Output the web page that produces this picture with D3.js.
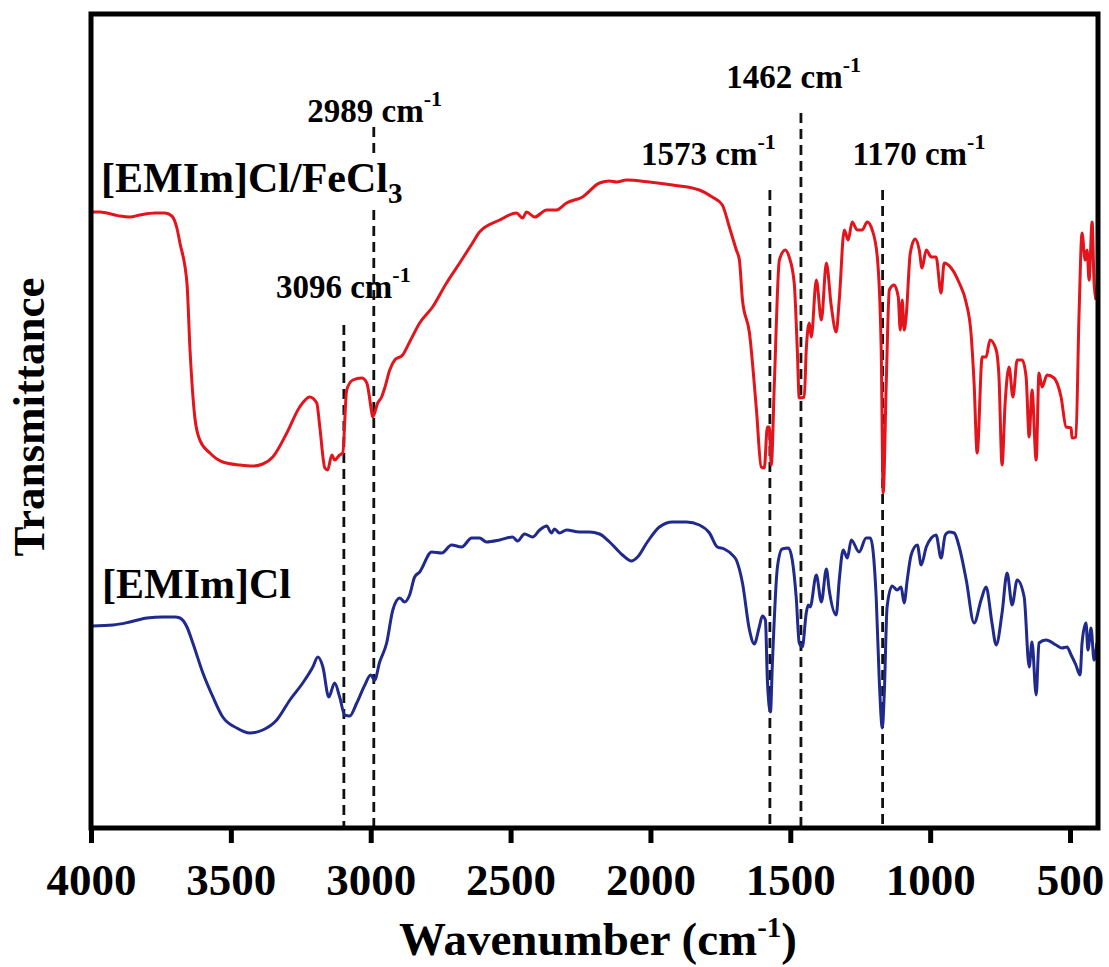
<!DOCTYPE html>
<html>
<head>
<meta charset="utf-8">
<script src="https://cdn.jsdelivr.net/npm/d3@7"></script>
<style>
  body { margin: 0; background: #fff; }
  text { font-family: "Liberation Serif", "Times New Roman", serif; font-weight: bold; }
</style>
</head>
<body>
<svg id="chart"></svg>
<script>
// wavenumber (cm-1) and transmittance (a.u.)
const feWn = [4000,3968,3914,3896,3861,3825,3771,3736,3711,3693,3682,3657,3646,3629,3611,3575,3529,3468,3421,3386,
  3350,3300,3254,3218,3193,3182,3164,3154,3139,3129,3111,3100,3086,3064,3032,3014,2996,2993,2975,2961,
  2950,2932,2914,2886,2861,2825,2779,2729,2682,2636,2611,2539,2479,2457,2443,2414,2371,2336,2300,2243,
  2182,2146,2121,2086,2004,1921,1825,1779,1743,1718,1693,1682,1671,1646,1621,1604,1593,1582,1575,1568,
  1557,1539,1518,1504,1486,1475,1468,1450,1443,1432,1425,1407,1389,1371,1354,1336,1325,1307,1293,1279,
  1261,1243,1225,1207,1189,1175,1168,1157,1146,1129,1114,1107,1100,1093,1086,1071,1054,1039,1029,1014,
  996,979,961,950,925,896,871,854,843,832,814,800,786,764,754,743,732,718,704,689,
  671,657,646,636,621,611,600,582,557,532,514,496,493,479,468,457,446,439,432,421,414,407];
const feT = [61.6,61.6,61.3,61.2,61.1,61.3,61.5,61.5,61.2,60.0,58.5,54.5,47.8,41.1,38.8,37.5,36.6,36.3,36.2,36.4,
  37.1,39.5,42.1,43.1,42.5,40.1,36.0,35.8,37.3,36.8,37.3,37.5,43.8,44.8,45.0,44.5,41.5,41.1,42.5,43.1,
  44.0,45.8,46.8,47.3,48.6,50.5,52.1,54.5,56.5,58.5,59.6,60.8,61.5,61.0,61.6,61.1,61.8,61.8,62.5,63.1,
  64.5,64.7,64.6,64.8,64.6,64.3,63.8,63.1,62.3,60.1,57.8,56.8,52.8,49.5,41.8,36.1,36.0,40.1,40.1,36.3,
  44.5,56.8,57.8,57.1,54.5,47.8,43.0,43.1,47.8,50.5,49.1,54.8,50.8,56.5,52.3,49.6,52.8,59.8,58.8,60.6,
  59.8,59.8,60.6,59.8,57.1,47.8,33.5,44.5,53.8,54.3,53.1,49.8,52.8,49.8,51.1,57.5,58.9,57.8,56.0,57.8,
  57.1,57.1,53.5,56.5,56.0,54.5,52.5,49.5,44.5,37.5,47.1,47.1,48.8,47.8,45.1,36.3,42.5,46.1,43.1,46.8,
  46.8,45.1,39.1,43.8,36.8,45.5,44.1,45.3,45.0,43.1,40.1,40.0,39.0,39.1,51.1,59.5,56.8,57.8,54.8,60.6,54.5,52.8];

const emWn = [3996,3921,3861,3800,3743,3700,3682,3657,3636,3600,3564,3529,3479,3432,3386,3336,3289,3243,3207,3189,
  3171,3150,3129,3111,3093,3075,3050,3021,3000,2986,2968,2943,2921,2896,2879,2861,2843,2825,2782,2746,
  2711,2675,2639,2611,2586,2539,2493,2475,2450,2421,2396,2371,2354,2343,2325,2300,2254,2218,2182,2146,
  2100,2068,2046,2011,1968,1921,1871,1825,1789,1761,1736,1707,1693,1671,1646,1629,1611,1600,1589,1582,
  1571,1564,1546,1529,1507,1493,1479,1468,1457,1443,1436,1429,1407,1389,1371,1361,1336,1325,1311,1296,
  1282,1254,1229,1214,1193,1182,1171,1164,1154,1136,1118,1104,1093,1082,1068,1046,1032,1014,996,979,
  961,946,932,914,896,871,843,818,800,779,764,743,725,707,689,664,646,636,621,611,
  586,550,529,511,496,479,464,457,443,436,425,414,404];
const emT = [20.2,20.3,20.6,21.0,21.1,21.1,21.0,20.1,18.5,15.5,13.1,11.1,10.0,9.5,9.8,10.8,12.8,14.5,16.1,17.1,
  16.1,13.1,14.5,13.1,11.3,11.2,12.5,14.3,15.3,14.8,16.6,18.5,21.8,23.0,22.6,23.3,25.1,25.6,27.6,27.5,
  28.3,28.1,29.0,29.0,28.6,28.8,29.1,28.7,29.4,29.1,29.8,30.2,29.5,29.9,29.5,29.8,29.6,29.6,29.4,28.6,
  27.3,26.7,27.1,28.6,30.1,30.6,30.6,30.3,29.5,28.1,27.9,27.3,26.8,24.5,19.8,18.4,20.1,21.2,20.8,14.8,
  11.6,16.5,26.1,27.9,28.0,26.8,23.1,18.5,18.1,21.5,22.3,22.1,25.3,22.6,25.9,23.8,21.3,24.8,27.8,27.0,
  28.8,27.6,29.0,29.0,23.1,14.8,10.0,13.5,22.1,24.2,23.8,24.1,22.5,24.8,27.3,28.3,26.3,28.1,29.0,29.3,
  27.0,29.3,29.6,29.5,28.1,24.8,20.5,22.8,24.1,20.5,18.3,21.5,25.5,22.3,24.8,23.1,16.1,18.6,13.3,18.5,
  18.8,18.3,18.0,18.1,17.3,16.3,15.3,18.5,20.5,17.8,20.0,16.8,18.5];

const xTicks = [4000, 3500, 3000, 2500, 2000, 1500, 1000, 500];

// dashed marker lines: wavenumber, top and bottom in transmittance units
const markLines = [
  {wn: 3096, top: 50.3, bottom: 0},
  {wn: 2989, top: 70.1, bottom: 67.5},
  {wn: 2989, top: 61.8, bottom: 0},
  {wn: 1573, top: 63.8, bottom: 0},
  {wn: 1462, top: 71.5, bottom: 0},
  {wn: 1170, top: 63.8, bottom: 0}
];
// peak labels: label text, centre wavenumber, baseline transmittance
const peakLabels = [
  {text: '2989', wn: 2986, t: 70.6},
  {text: '3096', wn: 3098, t: 53.0},
  {text: '1573', wn: 1793, t: 66.3},
  {text: '1462', wn: 1488, t: 74.0},
  {text: '1170', wn: 1040, t: 66.3}
];

const width = 1109, height = 967;
const margin = {top: 14, right: 11, bottom: 139, left: 91};

const svg = d3.select('#chart')
  .attr('width', width)
  .attr('height', height);

const x = d3.scaleLinear()
  .domain([4000, 400])
  .range([margin.left, width - margin.right]);

const y = d3.scaleLinear()
  .domain([0, 81.4])
  .range([height - margin.bottom, margin.top]);

// marker lines first so the curves sit on top
svg.append('g')
  .selectAll('line')
  .data(markLines)
  .join('line')
  .attr('x1', d => x(d.wn))
  .attr('x2', d => x(d.wn))
  .attr('y1', d => y(d.top))
  .attr('y2', d => y(d.bottom))
  .attr('stroke', '#111')
  .attr('stroke-width', 2.8)
  .attr('stroke-dasharray', '10,6');

const line = d3.line()
  .x(d => x(d[0]))
  .y(d => y(d[1]))
  .curve(d3.curveMonotoneX);

const series = [
  {wn: feWn, t: feT, color: '#e3141c'},
  {wn: emWn, t: emT, color: '#1f2a8c'}
];

svg.append('g')
  .selectAll('path')
  .data(series)
  .join('path')
  .attr('d', s => line(s.wn.map((w, i) => [w, s.t[i]])))
  .attr('fill', 'none')
  .attr('stroke', s => s.color)
  .attr('stroke-width', 3)
  .attr('stroke-linejoin', 'round');

// frame
svg.append('rect')
  .attr('x', x(4000))
  .attr('y', y(81.4))
  .attr('width', x(400) - x(4000))
  .attr('height', y(0) - y(81.4))
  .attr('fill', 'none')
  .attr('stroke', '#000')
  .attr('stroke-width', 5);

const xAxis = d3.axisBottom(x)
  .tickValues(xTicks)
  .tickSize(15)
  .tickSizeOuter(0)
  .tickPadding(20)
  .tickFormat(d3.format('d'));

const xg = svg.append('g')
  .attr('transform', `translate(0, ${y(0)})`)
  .call(xAxis);
xg.select('.domain').remove();
xg.selectAll('.tick line').attr('stroke', '#000').attr('stroke-width', 5);
xg.selectAll('.tick text')
  .attr('fill', '#000')
  .style('font-size', '45px')
  .style('font-family', '"Liberation Serif", "Times New Roman", serif')
  .style('font-weight', 'bold');

// axis titles
const xt = svg.append('text')
  .attr('x', 598)
  .attr('y', 955)
  .attr('text-anchor', 'middle')
  .style('font-size', '47px');
xt.append('tspan').text('Wavenumber (cm');
xt.append('tspan').attr('dy', -18).style('font-size', '29px').text('-1');
xt.append('tspan').attr('dy', 18).text(')');

svg.append('text')
  .attr('transform', 'rotate(-90)')
  .attr('x', -417)
  .attr('y', 44)
  .attr('text-anchor', 'middle')
  .style('font-size', '45px')
  .text('Transmittance');

// peak labels
peakLabels.forEach(p => {
  const t = svg.append('text')
    .attr('x', x(p.wn))
    .attr('y', y(p.t))
    .attr('text-anchor', 'middle')
    .style('font-size', '33px');
  t.append('tspan').text(p.text + ' cm');
  t.append('tspan').attr('dy', -16).style('font-size', '22px').text('-1');
});

// series labels
const s1 = svg.append('text')
  .attr('x', 101)
  .attr('y', y(63.6))
  .style('font-size', '42px');
s1.append('tspan').text('[EMIm]Cl/FeCl');
s1.append('tspan').attr('dy', 11).style('font-size', '29px').text('3');

svg.append('text')
  .attr('x', 102)
  .attr('y', y(23.0))
  .style('font-size', '42px')
  .text('[EMIm]Cl');
</script>
</body>
</html>
